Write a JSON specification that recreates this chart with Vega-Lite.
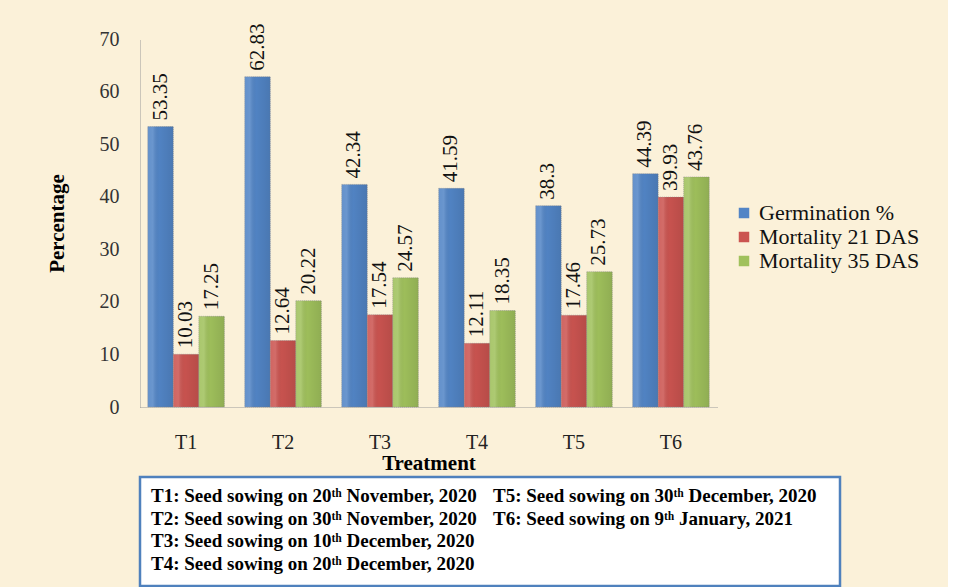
{
  "$schema": "https://vega.github.io/schema/vega-lite/v6.json",
  "autosize": {"type": "pad"},
  "padding": {"left": 46, "top": 23, "right": 28, "bottom": 0},
  "background": "#FBF1D9",
  "config": {
    "font": "Liberation Serif",
    "concat": {"spacing": 70},
    "view": {"stroke": null}
  },
  "bounds": "flush",
  "resolve": {"legend": {"color": "independent"}},
  "vconcat": [
    {
      "width": 577,
      "height": 368,
      "data": {
        "values": [
          {"treatment": "T1", "series": "Germination %", "value": 53.35},
          {"treatment": "T1", "series": "Mortality 21 DAS", "value": 10.03},
          {"treatment": "T1", "series": "Mortality 35 DAS", "value": 17.25},
          {"treatment": "T2", "series": "Germination %", "value": 62.83},
          {"treatment": "T2", "series": "Mortality 21 DAS", "value": 12.64},
          {"treatment": "T2", "series": "Mortality 35 DAS", "value": 20.22},
          {"treatment": "T3", "series": "Germination %", "value": 42.34},
          {"treatment": "T3", "series": "Mortality 21 DAS", "value": 17.54},
          {"treatment": "T3", "series": "Mortality 35 DAS", "value": 24.57},
          {"treatment": "T4", "series": "Germination %", "value": 41.59},
          {"treatment": "T4", "series": "Mortality 21 DAS", "value": 12.11},
          {"treatment": "T4", "series": "Mortality 35 DAS", "value": 18.35},
          {"treatment": "T5", "series": "Germination %", "value": 38.3},
          {"treatment": "T5", "series": "Mortality 21 DAS", "value": 17.46},
          {"treatment": "T5", "series": "Mortality 35 DAS", "value": 25.73},
          {"treatment": "T6", "series": "Germination %", "value": 44.39},
          {"treatment": "T6", "series": "Mortality 21 DAS", "value": 39.93},
          {"treatment": "T6", "series": "Mortality 35 DAS", "value": 43.76}
        ]
      },
      "encoding": {
        "x": {
          "field": "treatment", "type": "nominal",
          "scale": {"paddingInner": 0.21, "paddingOuter": 0.08},
          "axis": {
            "title": "Treatment", "labelAngle": 0, "ticks": false,
            "domainColor": "#9a9a9a", "domainDash": [1, 1], "domainWidth": 1,
            "labelFont": "Liberation Serif", "labelFontSize": 20, "labelColor": "#222",
            "labelPadding": 25,
            "titleFont": "Liberation Serif", "titleFontSize": 21, "titleFontWeight": "bold", "titleColor": "#000",
            "titlePadding": 0
          }
        },
        "xOffset": {"field": "series", "type": "nominal", "sort": ["Germination %", "Mortality 21 DAS", "Mortality 35 DAS"]},
        "y": {
          "field": "value", "type": "quantitative",
          "scale": {"domain": [0, 70], "nice": false},
          "axis": {
            "title": "Percentage", "values": [0, 10, 20, 30, 40, 50, 60, 70],
            "grid": false, "ticks": false,
            "domainColor": "#9a9a9a", "domainDash": [1, 1], "domainWidth": 1,
            "labelFont": "Liberation Serif", "labelFontSize": 20, "labelColor": "#333",
            "labelPadding": 21,
            "titleFont": "Liberation Serif", "titleFontSize": 21, "titleFontWeight": "bold", "titleColor": "#000",
            "titlePadding": 32
          }
        }
      },
      "layer": [
        {
          "mark": {"type": "bar", "stroke": "#8a8a8a", "strokeWidth": 0.6, "strokeDash": [1, 1]},
          "encoding": {
            "color": {
              "field": "series", "type": "nominal",
              "scale": {
                "domain": ["Germination %", "Mortality 21 DAS", "Mortality 35 DAS"],
                "range": ["#5285C6", "#CB5450", "#A0C15C"]
              },
              "legend": {
                "title": null, "orient": "none", "legendX": 593, "legendY": 163,
                "symbolType": "square", "symbolSize": 110, "symbolStrokeWidth": 0,
                "labelFont": "Liberation Serif", "labelFontSize": 22, "labelColor": "#111",
                "labelLimit": 400, "labelOffset": 4, "rowPadding": 2
              }
            }
          }
        },
        {
          "mark": {
            "type": "bar",
            "color": {
              "gradient": "linear", "x1": 0, "y1": 0, "x2": 1, "y2": 0,
              "stops": [
                {"offset": 0, "color": "rgba(255,255,255,0.10)"},
                {"offset": 0.2, "color": "rgba(255,255,255,0.14)"},
                {"offset": 0.45, "color": "rgba(0,0,0,0.02)"},
                {"offset": 1, "color": "rgba(0,0,0,0.10)"}
              ]
            }
          },
          "encoding": {}
        },
        {
          "mark": {"type": "text", "angle": 270, "align": "left", "baseline": "middle", "dx": 6, "font": "Liberation Serif", "fontSize": 21, "color": "#111"},
          "encoding": {
            "text": {"field": "value", "type": "quantitative"}
          }
        }
      ]
    },
    {
      "width": 700,
      "height": 109,
      "view": {"fill": "#FFFFFF", "stroke": "#4F81BD", "strokeWidth": 2.5},
      "data": {
        "values": [
          {"col": 1, "line": 1, "text": "T1: Seed sowing on 20ᵗʰ November, 2020"},
          {"col": 1, "line": 2, "text": "T2: Seed sowing on  30ᵗʰ November, 2020"},
          {"col": 1, "line": 3, "text": "T3: Seed sowing on 10ᵗʰ December, 2020"},
          {"col": 1, "line": 4, "text": "T4: Seed sowing on 20ᵗʰ December, 2020"},
          {"col": 2, "line": 1, "text": "T5: Seed sowing on 30ᵗʰ December, 2020"},
          {"col": 2, "line": 2, "text": "T6: Seed sowing on 9ᵗʰ January, 2021"}
        ]
      },
      "mark": {"type": "text", "align": "left", "baseline": "middle", "font": "Liberation Serif", "fontSize": 19, "fontWeight": "bold", "color": "#000"},
      "encoding": {
        "x": {"field": "col", "type": "ordinal", "scale": {"type": "point", "range": [11, 353], "padding": 0}, "axis": null},
        "y": {"field": "line", "type": "ordinal", "scale": {"type": "point", "range": [19, 87], "padding": 0}, "axis": null},
        "text": {"field": "text"}
      }
    }
  ]
}
